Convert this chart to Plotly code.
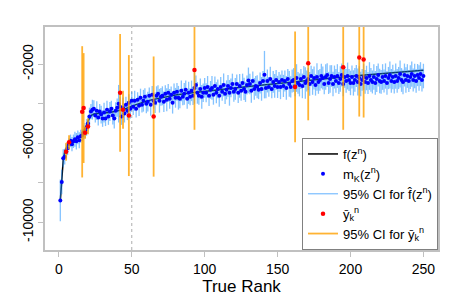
import plotly.graph_objects as go

# ---- data ----
ranks = list(range(1, 251))
m_vals = [
    -8890, -7960, -6760, -6680, -6400, -6250, -6050, -5880, -6050, -5900,
    -5800, -5900, -5700, -5850, -5650, -5600, -5450, -5350, -5200, -5000,
    -4650, -4400, -4300, -4250, -4600, -4350, -4700, -4400, -4550, -4750,
    -4450, -4750, -4300, -4650, -4400, -4250, -4600, -4750, -4350, -4200,
    -4000, -4150, -4650, -4200, -4500, -4050, -4350, -3950, -4250, -3850,
    -4150, -3850, -4250, -3800, -4100, -3700, -4050, -3850, -3650, -4000,
    -3900, -3600, -4050, -3550, -3850, -3950, -3600, -3500, -3850, -3650,
    -3600, -3900, -3500, -3800, -3450, -3750, -3550, -3950, -3450, -3700,
    -3400, -3700, -3750, -3350, -3650, -3500, -3300, -3750, -3450, -3650,
    -3350, -3600, -3200, -3050, -3450, -3600, -3250, -3650, -3450, -3200,
    -3450, -3150, -3600, -3300, -3200, -3550, -3100, -3450, -3250, -3600,
    -3150, -3400, -3050, -3500, -3300, -3100, -3450, -3200, -3000, -3400,
    -3250, -3000, -3450, -3100, -3350, -2950, -3250, -3400, -3050, -2820,
    -3000, -3350, -2850, -3250, -3100, -3140, -3300, -2950, -3250, -2850,
    -2530, -3200, -2850, -3150, -2750, -3250, -2900, -3100, -2800, -3150,
    -2900, -3150, -2800, -3100, -2850, -3200, -2750, -3000, -3150, -2850,
    -2800, -3100, -2700, -2950, -3050, -2750, -3100, -2650, -2950, -2850,
    -2750, -3000, -2600, -2900, -2700, -3050, -2650, -2900, -2800, -2600,
    -2700, -3000, -2650, -2550, -2950, -2750, -2600, -3000, -2650, -2850,
    -2600, -2950, -2750, -2550, -3000, -2650, -2850, -2600, -2800, -2950,
    -2650, -2950, -2800, -2600, -2900, -2700, -3000, -2800, -2650, -2900,
    -2700, -2950, -2600, -2800, -2900, -2650, -2950, -2750, -2550, -2850,
    -2900, -2650, -2850, -2600, -2950, -2700, -2550, -2850, -2650, -2900,
    -2600, -2850, -2700, -2500, -2800, -2900, -2550, -2800, -2600, -2850,
    -2650, -2500, -2800, -2600, -2850, -2550, -2700, -2500, -2800, -2600,
]
m_half = [
    1050, 620, 450, 400, 380, 350, 300, 320, 360, 340,
    380, 420, 350, 400, 330, 300, 350, 380, 420, 400,
    450, 380, 500, 420, 350, 480, 400, 380, 450, 420,
    500, 380, 450, 420, 480, 400, 450, 500, 420, 460,
    950, 480, 420, 520, 450, 400, 480, 430, 500, 450,
    420, 500, 450, 380, 520, 460, 400, 550, 430, 480,
    500, 420, 560, 450, 400, 520, 480, 430, 600, 450,
    480, 520, 430, 580, 450, 500, 420, 550, 470, 500,
    450, 600, 480, 520, 430, 550, 470, 500, 560, 430,
    520, 470, 800, 480, 550, 450, 520, 600, 470, 500,
    480, 550, 520, 450, 600, 500, 470, 530, 480, 560,
    500, 450, 580, 520, 480, 550, 650, 470, 520, 500,
    550, 480, 520, 600, 500, 470, 560, 510, 480, 650,
    520, 600, 480, 550, 500, 580, 470, 530, 600, 500,
    1200, 520, 580, 500, 620, 480, 550, 600, 510, 560,
    500, 620, 480, 560, 530, 600, 500, 650, 540, 580,
    600, 520, 700, 550, 580, 500, 620, 560, 800, 530,
    560, 600, 520, 650, 580, 540, 700, 600, 550, 620,
    580, 520, 640, 600, 560, 700, 550, 620, 580, 600,
    600, 560, 650, 580, 620, 540, 600, 680, 560, 620,
    580, 640, 600, 560, 680, 600, 620, 550, 650, 600,
    620, 560, 700, 600, 580, 640, 600, 660, 580, 620,
    600, 650, 580, 640, 600, 560, 680, 600, 620, 580,
    640, 600, 560, 680, 600, 620, 580, 650, 600, 560,
    600, 640, 580, 620, 600, 560, 640, 600, 580, 620,
]
f_rank = [1, 2, 3, 4, 5, 6, 8, 10, 13, 15, 16, 17, 18, 19, 20, 21, 22, 24, 27, 30,
          35, 40, 45, 50, 55, 60, 65, 70, 75, 80, 90, 100, 110, 120, 130, 140, 150,
          160, 170, 180, 190, 200, 210, 220, 230, 240, 250]
f_vals = [-8900, -7900, -6850, -6450, -6250, -6100, -5950, -5850, -5750, -5680,
          -5600, -5450, -5280, -5080, -4880, -4700, -4600, -4520, -4480, -4470,
          -4450, -4380, -4280, -4120, -3980, -3870, -3780, -3700, -3630, -3560,
          -3460, -3370, -3290, -3210, -3130, -3060, -2980, -2900, -2820, -2750,
          -2680, -2610, -2550, -2490, -2430, -2370, -2310]
red_rank = [5, 7, 16, 17, 18, 20, 42, 44, 48, 65, 93, 162, 171, 195, 206, 209]
red_vals = [-6430, -5950, -4410, -4220, -5470, -5150, -3450, -4310, -4600, -4650,
            -2290, -3150, -1950, -2150, -1660, -1760]
red_half = [450, 350, 3320, 2780, 300, 400, 2980, 960, 3060, 3040, 3030, 2800,
            2890, 3170, 2990, 2940]
x_ticks = [0, 50, 100, 150, 200, 250]
y_ticks = [-10000, -8000, -6000, -4000, -2000]
y_ticktext = ["-10000", "", "-6000", "", "-2000"]


def segments(xs, centers, halves):
    sx, sy = [], []
    for x, c, h in zip(xs, centers, halves):
        sx += [x, x, None]
        sy += [c - h, c + h, None]
    return sx, sy


bx, by = segments(ranks, m_vals, m_half)
ox, oy = segments(red_rank, red_vals, red_half)

fig = go.Figure()
fig.add_trace(go.Scatter(x=f_rank, y=f_vals, mode="lines",
                         line=dict(color="black", width=1.5),
                         name="f(z<sup>n</sup>)", legendrank=1))
fig.add_trace(go.Scatter(x=bx, y=by, mode="lines",
                         line=dict(color="rgba(30,144,255,0.55)", width=1.3),
                         name="95% CI for f\u0302(z<sup>n</sup>)", legendrank=3))
fig.add_trace(go.Scatter(x=ranks, y=m_vals, mode="markers",
                         marker=dict(color="#0000FF", size=4),
                         name="m<sub>K</sub>(z<sup>n</sup>)", legendrank=2))
fig.add_trace(go.Scatter(x=ox, y=oy, mode="lines",
                         line=dict(color="rgba(255,160,0,0.8)", width=1.8),
                         name="95% CI for y\u0304<sub>k</sub><sup>n</sup>", legendrank=5))
fig.add_trace(go.Scatter(x=red_rank, y=red_vals, mode="markers",
                         marker=dict(color="#FF0000", size=4.5),
                         name="y\u0304<sub>k</sub><sup>n</sup>", legendrank=4))

fig.add_shape(type="line", x0=50, x1=50, y0=0, y1=1, xref="x", yref="paper",
              line=dict(color="#999999", width=0.8, dash="dot"), layer="below")

fig.update_layout(
    width=450, height=294,
    margin=dict(l=37, r=20, t=19, b=41),
    paper_bgcolor="white", plot_bgcolor="white",
    font=dict(family="Liberation Sans, Arial, sans-serif", size=14, color="black"),
    showlegend=True,
    legend=dict(x=1, y=0, xanchor="right", yanchor="bottom",
                bordercolor="#808080", borderwidth=1, bgcolor="white",
                font=dict(size=13), tracegroupgap=0),
)
fig.update_xaxes(range=[-9.5, 260], tickvals=x_ticks, showgrid=False, zeroline=False,
                 showline=True, mirror=True, linecolor="#c0c0c0", linewidth=1.5,
                 ticks="outside", ticklen=5, tickcolor="#c0c0c0",
                 title=dict(text="True Rank", standoff=2))
fig.update_yaxes(range=[-11400, -120], tickvals=y_ticks, ticktext=y_ticktext,
                 tickangle=-90, showgrid=False, zeroline=False,
                 showline=True, mirror=True, linecolor="#c0c0c0", linewidth=1.5,
                 ticks="outside", ticklen=5, tickcolor="#c0c0c0")

fig.write_html("out.html")
